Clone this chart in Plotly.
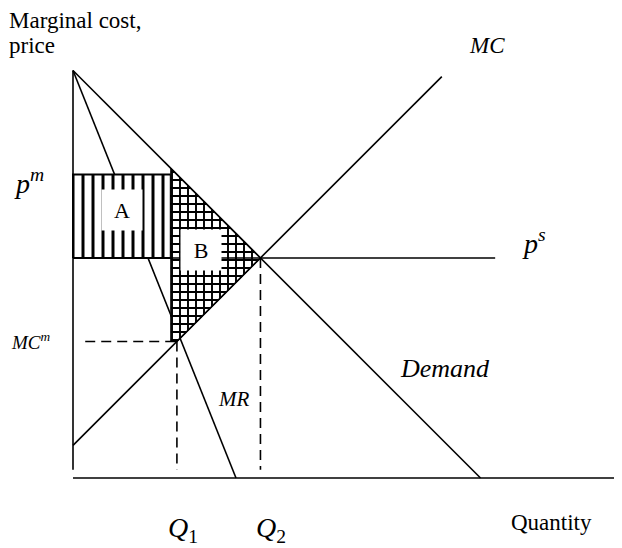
import plotly.graph_objects as go

# ---- data (economic model, price/quantity units) ----
demand_q = [0, 100]
demand_p = [100, 0]
mr_q = [0, 40]
mr_p = [100, 0]
mc_q = [0, 90.5]
mc_p = [8, 98.5]

q1 = 25.5          # monopoly quantity
q2 = 46            # efficient quantity
p_m = 74.5         # monopoly price
p_s = 54           # competitive price
mc_m = 33.5        # MC at monopoly output
a_right = 24       # right edge of area A

q_max = 134.7
ps_end = 103.6

OFF = 8                       # page body margin
W, H = 622 - OFF, 548 - OFF
X0, Y0, S = 73 - OFF, 478 - OFF, 4.075  # pixel origin and px per unit


def paper(xp, yp):
    return (xp - OFF) / W, 1 - (yp - OFF) / H


fig = go.Figure()
line = dict(color="black", width=1.6)

# MR curve first (hidden behind the shaded areas)
fig.add_trace(go.Scatter(x=mr_q, y=mr_p, mode="lines", line=line, hoverinfo="skip"))

# Area A (vertical hatching)
fig.add_trace(go.Scatter(
    x=[0, a_right, a_right, 0, 0], y=[p_s, p_s, p_m, p_m, p_s],
    mode="lines", fill="toself", line=dict(color="black", width=2),
    fillcolor="white",
    fillpattern=dict(shape="|", size=10, solidity=0.3, fgcolor="black",
                     fgopacity=1, bgcolor="white"),
    hoverinfo="skip"))

# Area B (cross hatching)
d_at_a = demand_p[0] - a_right
fig.add_trace(go.Scatter(
    x=[a_right, q2, q1, a_right, a_right],
    y=[d_at_a, p_s, mc_m, mc_m, d_at_a],
    mode="lines", fill="toself", line=dict(color="black", width=1.2),
    fillcolor="white",
    fillpattern=dict(shape="+", size=8, solidity=0.42, fgcolor="black",
                     fgopacity=1, bgcolor="white"),
    hoverinfo="skip"))

# axes
fig.add_trace(go.Scatter(x=[0, 0], y=[2, 100], mode="lines", line=line, hoverinfo="skip"))
fig.add_trace(go.Scatter(x=[0, q_max], y=[0, 0], mode="lines", line=line, hoverinfo="skip"))

# curves
fig.add_trace(go.Scatter(x=demand_q, y=demand_p, mode="lines", line=line, hoverinfo="skip"))
fig.add_trace(go.Scatter(x=mc_q, y=mc_p, mode="lines", line=line, hoverinfo="skip"))

# p^s line
fig.add_trace(go.Scatter(x=[0, ps_end], y=[p_s, p_s], mode="lines", line=line, hoverinfo="skip"))

# dashed guides
dash = dict(color="black", width=1.6, dash="10px,6px")
fig.add_trace(go.Scatter(x=[3, q1], y=[mc_m, mc_m], mode="lines", line=dash, hoverinfo="skip"))
fig.add_trace(go.Scatter(x=[q1, q1], y=[mc_m, 2], mode="lines", line=dash, hoverinfo="skip"))
fig.add_trace(go.Scatter(x=[q2, q2], y=[p_s, 2], mode="lines", line=dash, hoverinfo="skip"))

serif = "Liberation Serif"


def label(text, xp, yp, size, xanchor="left", **kw):
    x, y = paper(xp, yp)
    fig.add_annotation(x=x, y=y, xref="paper", yref="paper", text=text, showarrow=False,
                       xanchor=xanchor, yanchor="middle",
                       font=dict(family=serif, size=size, color="black"), **kw)


label("Marginal cost,", 8, 21, 23, borderpad=0)
label("price", 8, 45, 23, borderpad=0)
label("<i>MC</i>", 467, 45, 23)
label("<i>p</i><sup><i>m</i></sup>", 12, 182, 28)
label("<i>p</i><sup><i>s</i></sup>", 520, 241, 28)
label("<i>MC</i><sup><i>m</i></sup>", 9, 341, 19)
label("<i>MR</i>", 216, 399, 21)
label("<i>Demand</i>", 398, 368, 26)
label("<i>Q</i><sub>1</sub>", 166, 529, 28)
label("<i>Q</i><sub>2</sub>", 254, 529, 28)
label("Quantity", 509, 522, 23)

# area labels in white boxes
for t, xp, yp in [("A", 122, 210), ("B", 201, 250)]:
    x, y = paper(xp, yp)
    fig.add_annotation(x=x, y=y, xref="paper", yref="paper", text=t, showarrow=False,
                       xanchor="center", yanchor="middle", bgcolor="white",
                       width=36, height=36, borderpad=2,
                       font=dict(family=serif, size=22, color="black"))

fig.update_layout(
    width=W, height=H, margin=dict(l=0, r=0, t=0, b=0),
    paper_bgcolor="white", plot_bgcolor="white", showlegend=False,
    xaxis=dict(range=[-X0 / S, (W - X0) / S], visible=False, fixedrange=True),
    yaxis=dict(range=[(Y0 - H) / S, Y0 / S], visible=False, fixedrange=True),
)

fig.write_html("out.html")
